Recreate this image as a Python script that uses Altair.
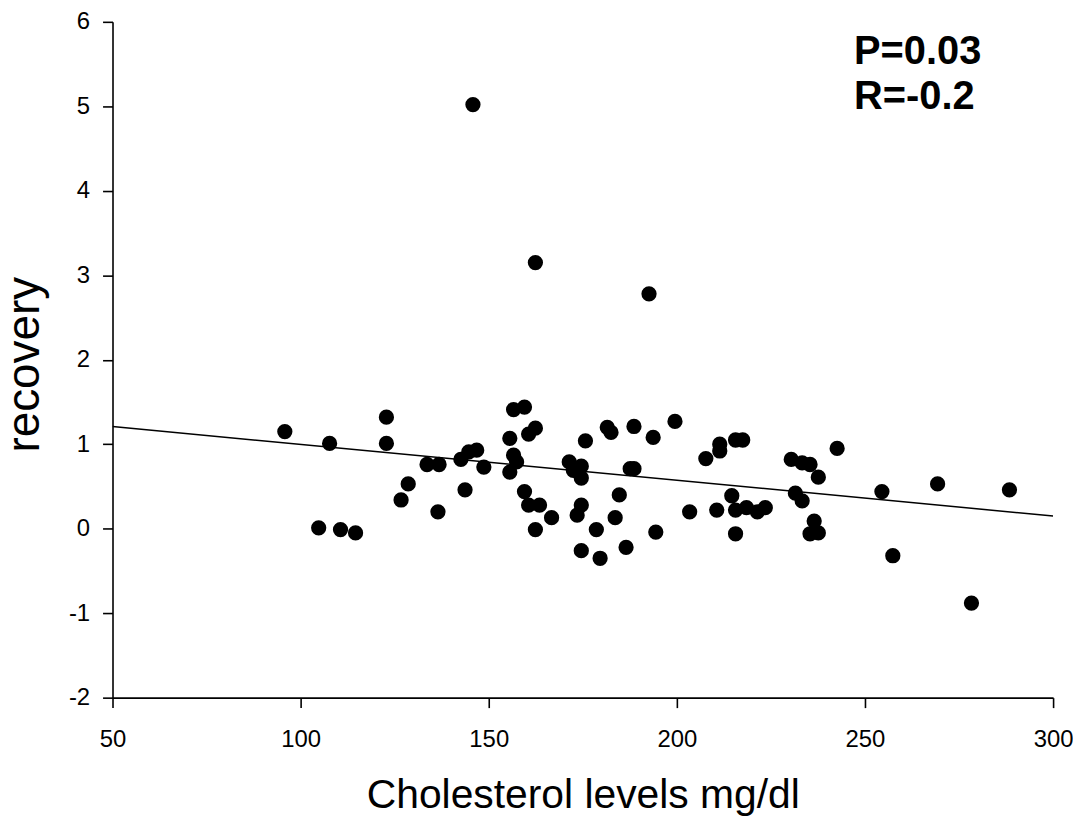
import altair as alt
import pandas as pd

# Scatter data
chol = [95.8, 104.8, 107.7, 110.6, 114.6, 122.8, 122.8, 126.7, 128.6, 133.6,
        136.8, 136.5, 142.6, 143.7, 144.7, 146.8, 145.8, 148.7, 155.6, 155.6,
        156.6, 156.6, 157.4, 159.5, 159.5, 160.6, 160.6, 162.4, 162.4, 162.4,
        163.5, 166.7, 171.4, 172.5, 173.5, 174.6, 174.6, 174.6, 174.6, 175.7,
        178.6, 179.6, 181.5, 182.5, 183.6, 184.7, 186.5, 187.6, 188.6, 188.6,
        192.6, 193.7, 194.4, 199.5, 203.4, 207.7, 210.6, 211.4, 211.4, 214.6,
        215.6, 215.6, 215.6, 217.5, 218.5, 221.4, 223.5, 230.4, 231.5, 233.3,
        233.3, 235.4, 235.4, 236.5, 237.6, 237.6, 242.6, 254.5, 257.4, 269.3,
        278.3, 288.4]
recovery = [1.15, 0.01, 1.01, -0.01, -0.05, 1.32, 1.01, 0.34, 0.53, 0.76,
            0.76, 0.20, 0.82, 0.46, 0.91, 0.93, 5.02, 0.73, 1.07, 0.67,
            1.41, 0.87, 0.79, 1.44, 0.44, 1.12, 0.28, 1.19, -0.01, 3.15,
            0.28, 0.13, 0.79, 0.69, 0.16, 0.74, 0.60, 0.28, -0.26, 1.04,
            -0.01, -0.35, 1.20, 1.14, 0.13, 0.40, -0.22, 0.71, 0.71, 1.21,
            2.78, 1.08, -0.04, 1.27, 0.20, 0.83, 0.22, 1.00, 0.92, 0.39,
            1.05, 0.22, -0.06, 1.05, 0.25, 0.20, 0.25, 0.82, 0.42, 0.78,
            0.33, 0.76, -0.06, 0.09, -0.05, 0.61, 0.95, 0.44, -0.32, 0.53,
            -0.88, 0.46]

# Regression line endpoints
line_x = [50, 300]
line_y = [1.21, 0.15]

x_ticks = [50, 100, 150, 200, 250, 300]
y_ticks = [-2, -1, 0, 1, 2, 3, 4, 5, 6]

pts = pd.DataFrame({"chol": chol, "recovery": recovery})
fit = pd.DataFrame({"chol": line_x, "recovery": line_y})

FONT = "Liberation Sans"

xscale = alt.Scale(domain=[50, 300], nice=False, zero=False)
yscale = alt.Scale(domain=[-2, 6], nice=False, zero=False)

xaxis = alt.Axis(values=x_ticks, labelExpr="'' + datum.value",
                 labelFlush=False, title="Cholesterol levels mg/dl",
                 grid=False, domainColor="black", domainWidth=1.6,
                 tickColor="black", tickWidth=1.6, tickSize=10, labelFont=FONT,
                 labelFontSize=24, labelColor="black", labelPadding=20,
                 titleFont=FONT, titleFontSize=41, titleFontWeight="normal",
                 titleColor="black", titleY=110, titleBaseline="alphabetic")
yaxis = alt.Axis(values=y_ticks, labelExpr="'' + datum.value",
                 labelFlush=False, title="recovery", grid=False,
                 domainColor="black", domainWidth=1.6, tickColor="black",
                 tickWidth=1.6, tickSize=10, labelFont=FONT, labelFontSize=24,
                 labelColor="black", labelPadding=13, titleFont=FONT,
                 titleFontSize=46, titleFontWeight="normal", titleColor="black",
                 titleX=-74, titleY=344, titleAngle=270,
                 titleBaseline="alphabetic", titleAlign="center")

scatter = alt.Chart(pts).mark_circle(color="black", opacity=1, size=235).encode(
    x=alt.X("chol:Q", scale=xscale, axis=xaxis),
    y=alt.Y("recovery:Q", scale=yscale, axis=yaxis),
)

line = alt.Chart(fit).mark_line(color="black", strokeWidth=1.5, clip=True).encode(
    x=alt.X("chol:Q", scale=xscale),
    y=alt.Y("recovery:Q", scale=yscale),
)

p_text = alt.Chart(pd.DataFrame({"t": ["P=0.03"]})).mark_text(
    font=FONT, fontSize=40, fontWeight="bold", align="left",
    baseline="alphabetic", color="black"
).encode(text="t:N", x=alt.value(745), y=alt.value(42))

r_text = alt.Chart(pd.DataFrame({"t": ["R=-0.2"]})).mark_text(
    font=FONT, fontSize=40, fontWeight="bold", align="left",
    baseline="alphabetic", color="black"
).encode(text="t:N", x=alt.value(745), y=alt.value(88))

chart = alt.layer(line, scatter, p_text, r_text).properties(
    width=945, height=679,
    autosize="none",
    padding={"left": 105, "top": 12, "right": 20, "bottom": 117},
    background="white",
).configure_view(stroke=None)

chart.save("out.html", embed_options={"renderer": "svg", "actions": False})
